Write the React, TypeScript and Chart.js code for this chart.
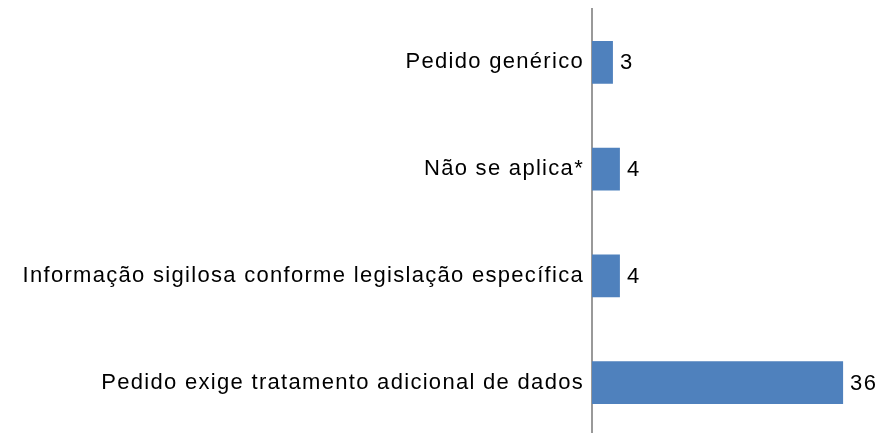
import React, { useEffect, useRef } from "react";
import { Chart, registerables } from "chart.js";

Chart.register(...registerables);

const categories = [
  "Pedido genérico",
  "Não se aplica*",
  "Informação sigilosa conforme legislação específica",
  "Pedido exige tratamento adicional de dados",
];
const values = [3, 4, 4, 36];
const xMax = 40;

const FONT_FAMILY = "'Liberation Sans', Arial, sans-serif";
const FONT_SIZE = 22;
const LETTER_SPACING = "1.3px";

const spacing = {
  id: "spacing",
  beforeDraw(chart: any) {
    (chart.ctx as any).letterSpacing = LETTER_SPACING;
  },
};

const valueLabels = {
  id: "valueLabels",
  afterDatasetsDraw(chart: any) {
    const ctx = chart.ctx;
    const meta = chart.getDatasetMeta(0);
    ctx.save();
    (ctx as any).letterSpacing = LETTER_SPACING;
    ctx.font = `${FONT_SIZE}px ${FONT_FAMILY}`;
    ctx.fillStyle = "#000000";
    ctx.textAlign = "left";
    ctx.textBaseline = "middle";
    meta.data.forEach((bar: any, i: number) => {
      ctx.fillText(String(values[i]), bar.x + 7, bar.y + 1);
    });
    ctx.restore();
  },
};

export default function App() {
  const ref = useRef<HTMLCanvasElement | null>(null);
  useEffect(() => {
    if (!ref.current) return;
    const chart = new Chart(ref.current, {
      type: "bar",
      data: {
        labels: categories,
        datasets: [
          {
            data: values,
            backgroundColor: "#4F81BD",
            categoryPercentage: 0.8,
            barPercentage: 0.5,
          },
        ],
      },
      options: {
        indexAxis: "y",
        animation: false,
        responsive: true,
        maintainAspectRatio: false,
        layout: { padding: { top: 9, right: 12, bottom: 0, left: 0 } },
        plugins: {
          legend: { display: false },
          tooltip: { enabled: false },
        },
        scales: {
          x: { display: false, min: 0, max: xMax },
          y: {
            grid: { display: false, drawTicks: false },
            border: { display: true, color: "#999999", width: 2 },
            ticks: {
              color: "#000000",
              padding: 8,
              font: { family: FONT_FAMILY, size: FONT_SIZE },
            },
            afterFit(scale: any) {
              scale.width = 592;
              scale.paddingTop = 0;
              scale.paddingBottom = 0;
            },
          },
        },
      },
      plugins: [spacing, valueLabels],
    });
    return () => chart.destroy();
  }, []);
  return (
    <div style={{ position: "fixed", left: 0, top: 0, width: 883, height: 433, overflow: "hidden", background: "#fff" }}>
      <div style={{ position: "absolute", left: 0, top: 0, width: 883, height: 436 }}>
        <canvas ref={ref} />
      </div>
    </div>
  );
}
